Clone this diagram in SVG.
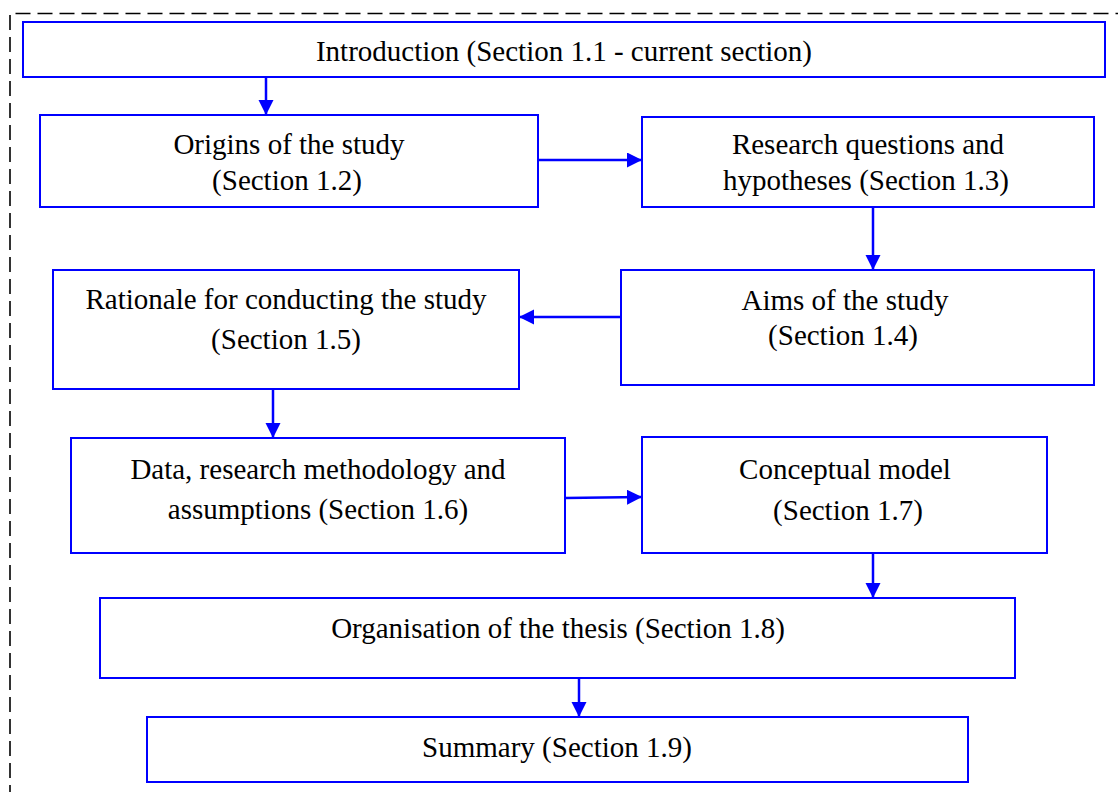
<svg xmlns="http://www.w3.org/2000/svg" width="1118" height="792" viewBox="0 0 1118 792">
  <style>
    .box { fill: #ffffff; stroke: #0000ff; stroke-width: 2; }
    .lbl { font-family: "Liberation Serif", "Times New Roman", serif; font-size: 29px; fill: #000000; text-anchor: middle; }
    .conn { stroke: #0000ff; stroke-width: 2.5; fill: none; marker-end: url(#arrow); }
    .frame { fill: none; stroke: #000000; stroke-width: 1.6; stroke-dasharray: 15 7; }
  </style>
  <defs>
    <marker id="arrow" markerUnits="userSpaceOnUse" markerWidth="16" markerHeight="16" refX="15" refY="7.5" orient="auto">
      <path d="M0,0 L15,7.5 L0,15 Z" fill="#0000ff"/>
    </marker>
  </defs>
  <rect width="1118" height="792" fill="#ffffff"/>

  <!-- dashed outer frame -->
  <path class="frame" d="M10,800 L10,13.5 L1125,13.5"/>

  <g id="n1">
    <rect class="box" x="23" y="22" width="1082" height="55"/>
    <text class="lbl" x="564" y="61">Introduction (Section 1.1 - current section)</text>
  </g>
  <g id="n2">
    <rect class="box" x="40" y="115" width="498" height="92"/>
    <text class="lbl" x="289" y="154">Origins of the study</text>
    <text class="lbl" x="287" y="190">(Section 1.2)</text>
  </g>
  <g id="n3">
    <rect class="box" x="642" y="117" width="452" height="90"/>
    <text class="lbl" x="868" y="154">Research questions and</text>
    <text class="lbl" x="866" y="190">hypotheses (Section 1.3)</text>
  </g>
  <g id="n4">
    <rect class="box" x="53" y="270" width="466" height="119"/>
    <text class="lbl" x="286" y="309">Rationale for conducting the study</text>
    <text class="lbl" x="286" y="349">(Section 1.5)</text>
  </g>
  <g id="n5">
    <rect class="box" x="621" y="270" width="473" height="115"/>
    <text class="lbl" x="845" y="310">Aims of the study</text>
    <text class="lbl" x="843" y="345">(Section 1.4)</text>
  </g>
  <g id="n6">
    <rect class="box" x="71" y="438" width="494" height="115"/>
    <text class="lbl" x="318" y="479">Data, research methodology and</text>
    <text class="lbl" x="318" y="519">assumptions (Section 1.6)</text>
  </g>
  <g id="n7">
    <rect class="box" x="642" y="437" width="405" height="116"/>
    <text class="lbl" x="845" y="479">Conceptual model</text>
    <text class="lbl" x="848" y="520">(Section 1.7)</text>
  </g>
  <g id="n8">
    <rect class="box" x="100" y="598" width="915" height="80"/>
    <text class="lbl" x="558" y="638">Organisation of the thesis (Section 1.8)</text>
  </g>
  <g id="n9">
    <rect class="box" x="147" y="717" width="821" height="65"/>
    <text class="lbl" x="557" y="757">Summary (Section 1.9)</text>
  </g>

  <g id="connectors">
    <line class="conn" x1="266" y1="77" x2="266" y2="115"/>
    <line class="conn" x1="538" y1="160" x2="642" y2="160"/>
    <line class="conn" x1="873" y1="207" x2="873" y2="270"/>
    <line class="conn" x1="621" y1="317" x2="519" y2="317"/>
    <line class="conn" x1="273" y1="389" x2="273" y2="438"/>
    <line class="conn" x1="565" y1="498" x2="642" y2="497"/>
    <line class="conn" x1="873" y1="553" x2="873" y2="598"/>
    <line class="conn" x1="579" y1="678" x2="579" y2="717"/>
  </g>
</svg>
